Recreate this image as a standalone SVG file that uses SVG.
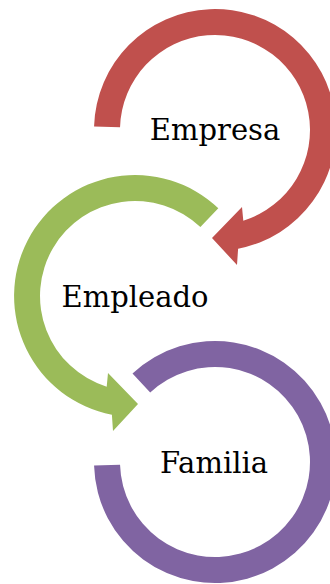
<svg xmlns="http://www.w3.org/2000/svg" width="330" height="584" viewBox="0 0 330 584">
<style>
.lbl{font-family:"DejaVu Serif","Liberation Serif",serif;font-size:29px;fill:#000;text-anchor:middle}
.red{fill:#C0504D}
.green{fill:#9BBB59}
.purple{fill:#8064A2}
</style>
<rect width="330" height="584" fill="#fff"/>
<g id="empresa">
<path class="red" d="M94.05,126.4 A121,121 0 1 1 238.1,248.8 L237,265 L212,238 L242,207 L243.3,220.7 A95,95 0 1 0 120.04,127.2 Z"/>
<text class="lbl" x="215" y="140">Empresa</text>
</g>
<g id="empleado">
<path class="green" d="M218.3,208.2 A121,121 0 1 0 111.9,414.8 L113,431 L138,404 L108,373 L106.7,386.7 A95,95 0 1 1 200.4,227.1 Z"/>
<text class="lbl" x="135" y="306.5">Empleado</text>
</g>
<g id="familia">
<path class="purple" d="M94.05,465.6 A121,121 0 1 0 132.5,373.5 L150.2,392.5 A95,95 0 1 1 120.04,464.8 Z"/>
<text class="lbl" x="214" y="473">Familia</text>
</g>
</svg>
